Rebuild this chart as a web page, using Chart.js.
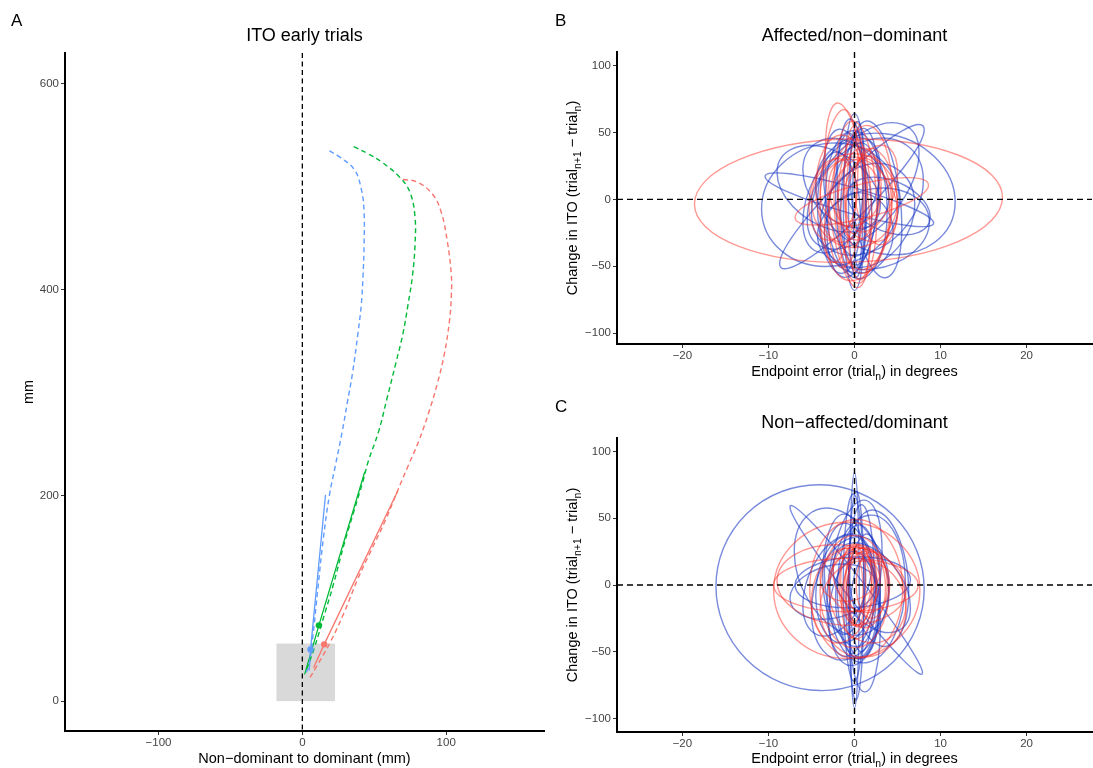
<!DOCTYPE html>
<html>
<head>
<meta charset="utf-8">
<script src="https://cdn.jsdelivr.net/npm/chart.js@4.4.1/dist/chart.umd.min.js"></script>
<style>
  body { margin: 0; background: #fff; }
  #wrap { position: relative; width: 1093px; height: 768px; overflow: hidden; }
  canvas { position: absolute; }
</style>
</head>
<body>
<div id="wrap">
  <canvas id="panelA" width="548" height="768" style="left:0;top:0"></canvas>
  <canvas id="panelB" width="545" height="384" style="left:548px;top:0"></canvas>
  <canvas id="panelC" width="545" height="384" style="left:548px;top:384px"></canvas>
</div>
<script>
// Panel A: ITO early trials, hand paths in mm
const xTicksA = [-100, 0, 100];
const yTicksA = [0, 200, 400, 600];

const blueDashX = [18.8, 25.3, 36.1, 41, 42.9, 42.9, 42.2, 41, 38.6, 34.9, 31.3, 27.7, 22.9, 18.8, 14.5, 10.8, 7.2, 4.3, 1.5];
const blueDashY = [534.8, 529.5, 516.7, 497.6, 476, 442.9, 414, 385.7, 357, 319, 290.5, 261.9, 228.6, 200, 157, 109.5, 62, 33, 25];
const greenDashX = [35.7, 45.8, 55.4, 67.5, 74.7, 78.3, 78.3, 76.6, 73.5, 69.9, 65, 59, 53, 45.8, 42.2, 36.1, 28.9, 21.7, 15.7, 8.4, 2.4];
const greenDashY = [539, 532, 523.8, 509.5, 495, 471, 443, 414, 385.7, 357, 328.6, 295, 262, 233, 214, 185.7, 152, 114, 85.7, 52, 28.6];
const redDashX = [69.9, 79.5, 90.4, 96.4, 100.7, 103.6, 103.6, 102.4, 98.8, 94, 88, 80.7, 73.5, 66.3, 57.8, 48.2, 38.6, 28.9, 19.3, 9.6, 5.3];
const redDashY = [507, 504.8, 492.9, 476, 447.6, 414, 395, 371, 338, 309.5, 281, 252, 228.6, 204.8, 176, 147.6, 119, 85.7, 57, 33, 23];

const blueSolidX = [16.1, 5.7, 4.8];
const blueSolidY = [200.6, 50.3, 29.9];
const greenSolidX = [43.4, 11.5, 1.6];
const greenSolidY = [223, 73.7, 26];
const redSolidX = [66.4, 15.2, 7.8];
const redSolidY = [204.5, 55.2, 32.5];

const startBoxX = [-18, 22.7];
const startBoxY = [0, 56];

// Panels B and C
const xTicksBC = [-20, -10, 0, 10, 20];
const yTicksBC = [-100, -50, 0, 50, 100];

// ellipses: [centre x, centre y, half width (deg), half height (ITO), y offset at right tip]
const affectedBlue = [
  [-0.6, -0.3, 9.8, 10, -17.4],
  [-0.3, 2, 8.4, 20, 50],
  [-2.8, -4, 8, 46, 3],
  [3.6, 4, 8.1, 45, -6],
  [1.5, 2, 6.5, 42, 12],
  [0, -2, 1.3, 66, 0],
  [0.3, 0, 1.0, 58, 5],
  [-0.4, -3, 1.8, 52, -8],
  [0.6, 2, 2.2, 50, 10],
  [-0.8, 5, 2.8, 45, -15],
  [1.5, -12, 5.5, 38, 8],
  [-1.5, 3, 4.5, 38, 20],
  [0.2, -4, 3.6, 55, -5],
  [2.2, -22, 6.5, 30, 5],
  [-1, 12, 5, 32, -10],
  [0.4, 0, 0.6, 50, 0],
  [-0.2, -8, 3, 48, 15],
  [4, -5, 4.8, 20, -8],
  [1, 10, 6.5, 40, 25],
  [-3, 8, 6, 30, -12],
  [0.5, -25, 4, 30, 0],
  [-0.5, 15, 1.5, 45, 0],
  [2.5, 0, 3, 55, -20],
  [-1.8, -10, 2.5, 45, -5]
];
const affectedRed = [
  [-0.7, -1, 17.9, 46, 2.5],
  [0.85, -1.5, 7.75, 13, 12],
  [-0.8, 3, 2.6, 62, -30],
  [0, -1, 5, 35, 0],
  [0.1, -2, 2.5, 60, -8],
  [0.6, 4, 2.5, 34, 5],
  [1.3, -10, 3, 42, 6],
  [-0.5, 5, 3.5, 25, 0],
  [1, 0, 4, 30, -10],
  [-1, -5, 2, 45, 10],
  [2, 8, 3, 30, 12],
  [0.5, -8, 1.5, 52, -5],
  [-1.5, 8, 3, 40, 0],
  [1.2, 0, 3.2, 55, 4],
  [-1.8, 10, 2.2, 55, 15],
  [0.3, -15, 3.8, 45, 8],
  [2.5, 2, 2.5, 35, -8],
  [-2.5, 0, 2.8, 30, 5],
  [0, 10, 1.2, 45, 0]
];
const dominantBlue = [
  [-4, -2, 12.1, 77, -1],
  [0, -4, 0.55, 88, 0],
  [0.2, -8, 0.9, 78, 3],
  [-0.1, -2, 1.2, 70, -3],
  [0.2, -3.7, 7.7, 12, -62],
  [-0.2, 2, 6.7, 19, 2],
  [1.5, -3, 4.4, 55, 5],
  [0, 5, 3.2, 55, 20],
  [0.5, -5, 2.5, 50, 0],
  [-0.5, 0, 3, 45, -10],
  [1, -8, 2, 45, 10],
  [-1, -3, 3.5, 40, 5],
  [0.3, -15, 2.5, 40, -5],
  [0.8, 5, 1.5, 55, 0],
  [-2, 0, 4, 35, 15],
  [2, -2, 4.5, 30, -15],
  [-0.5, -10, 4.5, 45, 10],
  [-1.2, 8, 2.5, 45, 0],
  [-1.5, 10, 5.5, 45, -15],
  [2.8, 5, 3.5, 50, -10],
  [0, -20, 3, 40, 5],
  [-2.5, -5, 5, 20, 5],
  [1.2, -30, 1.8, 50, 0]
];
const dominantRed = [
  [-0.9, -4, 8.5, 51, 0],
  [-1, 0, 8.4, 20, 0],
  [-1.5, 0, 7.5, 30, -3],
  [0.2, -3, 5.4, 52, 0],
  [0.2, 0, 2, 30, 0],
  [0.8, -3, 1.8, 28, 5],
  [0.5, 5, 1.5, 25, 0],
  [-0.3, 0, 1.3, 28, -3],
  [1.2, -2, 2.4, 30, 0],
  [0, 2, 3, 22, 0],
  [0.5, -8, 2, 32, 5],
  [1.5, -8, 4.5, 35, -5],
  [1, -18, 5, 36, 0],
  [-0.5, 8, 3.5, 20, 3],
  [0.3, -1, 1.0, 30, 0],
  [0, -5, 4, 42, 0],
  [0.8, 5, 3.3, 25, -5],
  [-1.5, -8, 3.5, 35, 5],
  [2, 0, 1.8, 25, 0]
];

const FONT = "'Liberation Sans', Arial, Helvetica, sans-serif";
const RED = '#F8766D', GREEN = '#00BA38', BLUE = '#619CFF';
const ELL_BLUE = 'rgba(25, 55, 195, 0.58)';
const ELL_RED = 'rgba(255, 40, 30, 0.48)';

Chart.defaults.font.family = FONT;

const pts = (xs, ys) => xs.map((x, i) => ({ x, y: ys[i] }));
const minus = v => String(v).replace('-', '\u2212');

function axis(min, max, ticks, sizeProp, size, pad) {
  return {
    type: 'linear', min, max,
    afterBuildTicks: s => { s.ticks = ticks.map(v => ({ value: v })); },
    afterFit: s => { s[sizeProp] = size; },
    grid: { drawOnChartArea: false, drawTicks: true, tickLength: 4, color: '#333333', lineWidth: 1 },
    border: { display: true, color: '#000000', width: 2 },
    ticks: {
      color: '#444444', font: { size: 11.5 }, padding: pad,
      maxRotation: 0, autoSkip: false, callback: minus
    }
  };
}

// draws text made of normal and subscript pieces, centred on (x, y)
function richText(ctx, parts, x, y, size, rot) {
  ctx.save();
  ctx.translate(x, y);
  if (rot) ctx.rotate(rot);
  ctx.textAlign = 'left';
  ctx.textBaseline = 'alphabetic';
  ctx.fillStyle = '#000';
  const fontOf = p => (p.sub ? size * 0.72 : size) + 'px ' + FONT;
  let w = 0;
  parts.forEach(p => { ctx.font = fontOf(p); w += ctx.measureText(p.t).width; });
  let cx = -w / 2;
  parts.forEach(p => {
    ctx.font = fontOf(p);
    ctx.fillText(p.t, cx, p.sub ? size * 0.28 : 0);
    cx += ctx.measureText(p.t).width;
  });
  ctx.restore();
}

const decor = {
  id: 'decor',
  afterDraw(chart, args, o) {
    const { ctx, chartArea: a } = chart;
    const mid = (a.left + a.right) / 2;
    richText(ctx, [{ t: o.title }], mid, o.titleY, 18);
    ctx.save();
    ctx.font = '17px ' + FONT;
    ctx.fillStyle = '#000';
    ctx.textBaseline = 'alphabetic';
    ctx.fillText(o.label, o.labelX, o.labelY);
    ctx.restore();
    richText(ctx, o.xTitle, mid, o.xTitleY, 14.5);
    richText(ctx, o.yTitle, o.yTitleX, (a.top + a.bottom) / 2, 14.5, -Math.PI / 2);
  }
};

const startBox = {
  id: 'startBox',
  beforeDatasetsDraw(chart) {
    const { ctx, chartArea: a, scales: { x, y } } = chart;
    const x0 = x.getPixelForValue(startBoxX[0]), x1 = x.getPixelForValue(startBoxX[1]);
    const y0 = y.getPixelForValue(startBoxY[0]), y1 = y.getPixelForValue(startBoxY[1]);
    ctx.save();
    ctx.fillStyle = '#d9d9d9';
    ctx.fillRect(x0, y1, x1 - x0, y0 - y1);
    // reference line at x = 0
    const zx = x.getPixelForValue(0);
    ctx.strokeStyle = '#000';
    ctx.lineWidth = 1.3;
    ctx.setLineDash([5, 3.5]);
    ctx.beginPath();
    ctx.moveTo(zx, a.top);
    ctx.lineTo(zx, a.bottom);
    ctx.stroke();
    ctx.restore();
  }
};

const ellipses = {
  id: 'ellipses',
  beforeDatasetsDraw(chart, args, o) {
    const { ctx, chartArea: a, scales: { x, y } } = chart;
    ctx.save();
    ctx.beginPath();
    ctx.rect(a.left, a.top, a.width, a.height);
    ctx.clip();
    ctx.lineWidth = 1.4;
    o.sets.forEach(set => {
      ctx.strokeStyle = set.color;
      set.data.forEach(([cx, cy, rx, ry, tilt]) => {
        const e = x.getPixelForValue(cx), f = y.getPixelForValue(cy);
        const ax = x.getPixelForValue(cx + rx) - e;
        const bt = y.getPixelForValue(cy + tilt) - f;
        const dy = y.getPixelForValue(cy + ry) - f;
        ctx.save();
        ctx.transform(ax, bt, 0, dy, e, f);
        ctx.beginPath();
        ctx.arc(0, 0, 1, 0, Math.PI * 2);
        ctx.restore();
        ctx.stroke();
      });
    });
    // dashed zero lines
    const zx = x.getPixelForValue(0), zy = y.getPixelForValue(0);
    ctx.strokeStyle = '#000';
    ctx.lineWidth = 1.4;
    ctx.setLineDash([6, 4]);
    ctx.beginPath();
    ctx.moveTo(a.left, zy); ctx.lineTo(a.right, zy);
    ctx.moveTo(zx, a.top); ctx.lineTo(zx, a.bottom);
    ctx.stroke();
    ctx.restore();
  }
};

const common = {
  responsive: false,
  animation: false,
  events: []
};

const dash = (xs, ys, c) => ({ data: pts(xs, ys), showLine: true, borderColor: c, borderWidth: 1.4, borderDash: [5, 3.5], tension: 0.4, pointRadius: 0 });
const solid = (xs, ys, c) => ({ data: pts(xs, ys), showLine: true, borderColor: c, borderWidth: 1.3, pointRadius: 0 });
const dot = (xs, ys, c) => ({ data: [{ x: xs[1], y: ys[1] }], showLine: false, pointRadius: 3.2, pointBackgroundColor: c, pointBorderWidth: 0 });

new Chart(document.getElementById('panelA'), {
  type: 'scatter',
  data: {
    datasets: [
      dot(blueSolidX, blueSolidY, BLUE),
      dot(greenSolidX, greenSolidY, GREEN),
      dot(redSolidX, redSolidY, RED),
      dash(blueDashX, blueDashY, BLUE),
      dash(greenDashX, greenDashY, GREEN),
      dash(redDashX, redDashY, RED),
      solid(blueSolidX, blueSolidY, BLUE),
      solid(greenSolidX, greenSolidY, GREEN),
      solid(redSolidX, redSolidY, RED)
    ]
  },
  options: {
    ...common,
    layout: { padding: { top: 53, right: 2, left: 0, bottom: 0 } },
    scales: {
      x: axis(-165, 168, xTicksA, 'height', 37, 1),
      y: axis(-29, 630, yTicksA, 'width', 65, 2)
    },
    plugins: {
      legend: { display: false }, tooltip: { enabled: false },
      decor: {
        title: 'ITO early trials', titleY: 41, label: 'A', labelX: 11, labelY: 26,
        xTitle: [{ t: 'Non\u2212dominant to dominant (mm)' }], xTitleY: 763,
        yTitle: [{ t: 'mm' }], yTitleX: 33
      }
    }
  },
  plugins: [startBox, decor]
});

const yTitleBC = [
  { t: 'Change in ITO (trial' }, { t: 'n+1', sub: true },
  { t: ' \u2212 trial' }, { t: 'n', sub: true }, { t: ')' }
];
const xTitleBC = [{ t: 'Endpoint error (trial' }, { t: 'n', sub: true }, { t: ') in degrees' }];

function ellipsePanel(id, title, label, yMin, top, xH, titleY, labelY, xTitleY, blue, red) {
  new Chart(document.getElementById(id), {
    type: 'scatter',
    data: { datasets: [] },
    options: {
      ...common,
      layout: { padding: { top, right: 1, left: 0, bottom: 0 } },
      scales: {
        x: axis(-27.6, 27.6, xTicksBC, 'height', xH, 1),
        y: axis(yMin, 110, yTicksBC, 'width', 69, 2)
      },
      plugins: {
        legend: { display: false }, tooltip: { enabled: false },
        ellipses: { sets: [{ color: ELL_BLUE, data: blue }, { color: ELL_RED, data: red }] },
        decor: {
          title, titleY, label, labelX: 7, labelY,
          xTitle: xTitleBC, xTitleY, yTitle: yTitleBC, yTitleX: 29
        }
      }
    },
    plugins: [ellipses, decor]
  });
}

ellipsePanel('panelB', 'Affected/non\u2212dominant', 'B', -108, 52, 40, 41, 26, 376, affectedBlue, affectedRed);
ellipsePanel('panelC', 'Non\u2212affected/dominant', 'C', -110, 54, 36, 44, 28, 379, dominantBlue, dominantRed);
</script>
</body>
</html>
